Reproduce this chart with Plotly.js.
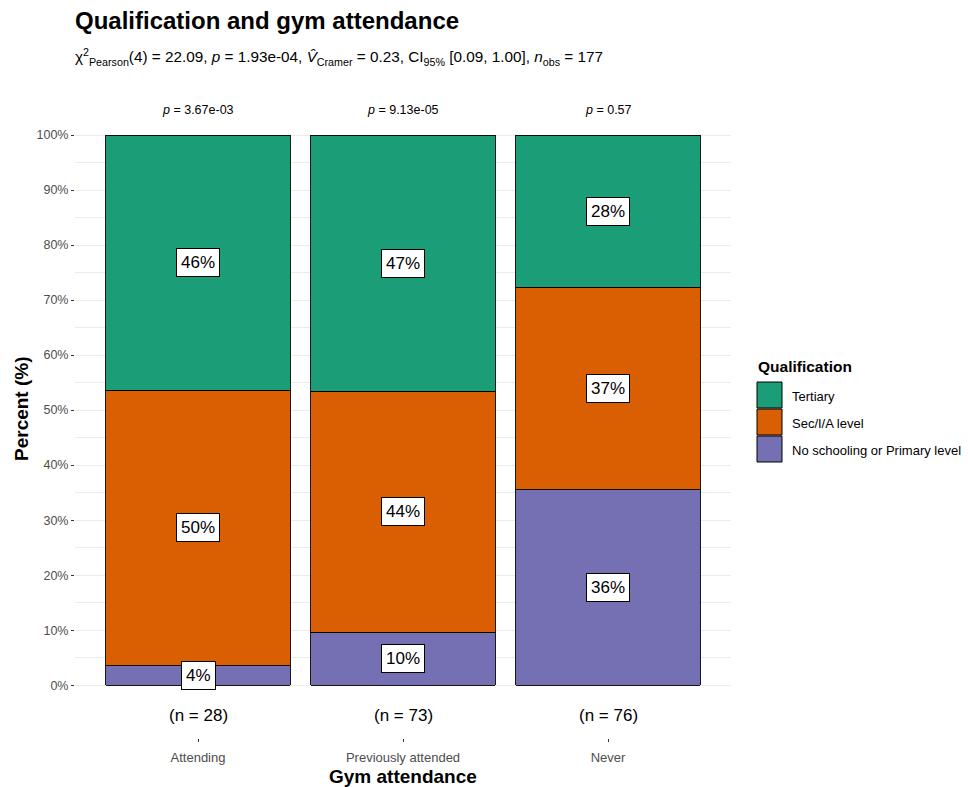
<!DOCTYPE html>
<html>
<head>
<meta charset="utf-8">
<script src="https://cdn.plot.ly/plotly-3.0.1.min.js"></script>
<style>
  html, body { margin: 0; padding: 0; background: #fff; }
  #chart { width: 968px; height: 787px; }
</style>
</head>
<body>
<div id="chart"></div>
<script>
// Gym attendance groups and qualification counts per group
const categories = ['Attending', 'Previously attended', 'Never'];
const groupN = [28, 73, 76];
const qualLevels = ['No schooling or Primary level', 'Sec/I/A level', 'Tertiary'];
const countsPrimary = [1, 7, 27];
const countsSecondary = [14, 32, 28];
const countsTertiary = [13, 34, 21];
const groupPValues = ['3.67e-03', '9.13e-05', '0.57'];
const yTickVals = [0, 10, 20, 30, 40, 50, 60, 70, 80, 90, 100];
const yTickText = ['0%', '10%', '20%', '30%', '40%', '50%', '60%', '70%', '80%', '90%', '100%'];

const qualColors = ['#7570B3', '#D95F02', '#1B9E77'];
const FONT = 'Liberation Sans, Arial, Helvetica, sans-serif';

// plot-area geometry in pixels, used to place the titles and legend
const W = 968, H = 787;
const M = { l: 75, r: 237, t: 91, b: 49 };
const PW = W - M.l - M.r, PH = H - M.t - M.b;
const px = x => (x - M.l) / PW;
const py = y => (H - M.b - y) / PH;

const countsByLevel = [countsPrimary, countsSecondary, countsTertiary];
const pctByLevel = countsByLevel.map(c => c.map((v, i) => v / groupN[i] * 100));

const traces = qualLevels.map((name, k) => ({
  type: 'bar',
  name: name,
  x: categories,
  y: pctByLevel[k],
  width: 0.9,
  marker: { color: qualColors[k], line: { color: '#000', width: 0.9 } },
  hoverinfo: 'skip',
  showlegend: false
}));

const annotations = [];
const shapes = [];

// boxed percentage labels at the middle of each stacked segment
categories.forEach((cat, i) => {
  let base = 0;
  pctByLevel.forEach(p => {
    const v = p[i];
    annotations.push({
      x: cat, y: base + v / 2, xref: 'x', yref: 'y',
      text: Math.round(v) + '%', showarrow: false,
      font: { family: FONT, size: 17, color: '#000' },
      bgcolor: '#fff', bordercolor: '#000', borderwidth: 1, borderpad: 4
    });
    base += v;
  });
  // per-group p-value above the bar
  annotations.push({
    x: cat, y: 104.5, xref: 'x', yref: 'y',
    text: '<i>p</i> = ' + groupPValues[i], showarrow: false,
    font: { family: FONT, size: 12.5, color: '#000' }
  });
  // group size under the bar
  annotations.push({
    x: cat, y: -5.6, xref: 'x', yref: 'y',
    text: '(n = ' + groupN[i] + ')', showarrow: false,
    font: { family: FONT, size: 17, color: '#000' }
  });
});

// titles
annotations.push({
  x: px(73), y: py(20), xref: 'paper', yref: 'paper', xanchor: 'left', yanchor: 'middle',
  text: '<b>Qualification and gym attendance</b>', showarrow: false,
  font: { family: FONT, size: 24, color: '#000' }
});
annotations.push({
  x: px(73), y: py(57), xref: 'paper', yref: 'paper', xanchor: 'left', yanchor: 'middle',
  text: 'χ<sup>2</sup><sub>Pearson</sub>(4) = 22.09, <i>p</i> = 1.93e-04, <i>V̂</i><sub>Cramer</sub> = 0.23, CI<sub>95%</sub> [0.09, 1.00], <i>n</i><sub>obs</sub> = 177',
  showarrow: false,
  font: { family: FONT, size: 15.3, color: '#000' }
});
annotations.push({
  x: 0.5, y: py(776), xref: 'paper', yref: 'paper', xanchor: 'center', yanchor: 'middle',
  text: '<b>Gym attendance</b>', showarrow: false,
  font: { family: FONT, size: 19, color: '#000' }
});
annotations.push({
  x: px(21), y: py(409), xref: 'paper', yref: 'paper', xanchor: 'center', yanchor: 'middle',
  text: '<b>Percent (%)</b>', textangle: -90, showarrow: false,
  font: { family: FONT, size: 19, color: '#000' }
});

// legend: title, colour keys and labels (top to bottom: Tertiary, Sec/I/A, Primary)
annotations.push({
  x: px(756), y: py(367), xref: 'paper', yref: 'paper', xanchor: 'left', yanchor: 'middle',
  text: '<b>Qualification</b>', showarrow: false,
  font: { family: FONT, size: 15.5, color: '#000' }
});
const legendOrder = [2, 1, 0];
legendOrder.forEach((k, j) => {
  const top = 382 + j * 27;
  shapes.push({
    type: 'rect', xref: 'paper', yref: 'paper',
    x0: px(757), x1: px(782), y0: py(top), y1: py(top + 26),
    fillcolor: qualColors[k], line: { color: '#000', width: 1 }
  });
  annotations.push({
    x: px(790), y: py(top + 14), xref: 'paper', yref: 'paper', xanchor: 'left', yanchor: 'middle',
    text: qualLevels[k], showarrow: false,
    font: { family: FONT, size: 13, color: '#000' }
  });
});

const layout = {
  width: W, height: H,
  margin: M,
  paper_bgcolor: '#fff', plot_bgcolor: '#fff',
  barmode: 'stack',
  bargap: 0.1,
  font: { family: FONT, color: '#000' },
  showlegend: false,
  xaxis: {
    type: 'category',
    range: [-0.6, 2.6],
    showgrid: false, zeroline: false, showline: false,
    ticks: 'outside', ticklen: 3, tickcolor: '#333', tickwidth: 1,
    tickfont: { family: FONT, size: 13, color: '#4D4D4D' },
    ticklabelstandoff: 4,
    fixedrange: true
  },
  yaxis: {
    range: [-9.6, 108],
    tickvals: yTickVals, ticktext: yTickText,
    showgrid: true, gridcolor: '#EBEBEB', gridwidth: 1,
    minor: { tickvals: [5, 15, 25, 35, 45, 55, 65, 75, 85, 95], showgrid: true, gridcolor: '#EBEBEB', gridwidth: 1, ticks: '' },
    zeroline: false, showline: false,
    ticks: 'outside', ticklen: 3, tickcolor: '#333', tickwidth: 1,
    tickfont: { family: FONT, size: 12.5, color: '#4D4D4D' },
    fixedrange: true
  },
  shapes: shapes,
  annotations: annotations
};

Plotly.newPlot('chart', traces, layout, { displayModeBar: false, staticPlot: true });
</script>
</body>
</html>
